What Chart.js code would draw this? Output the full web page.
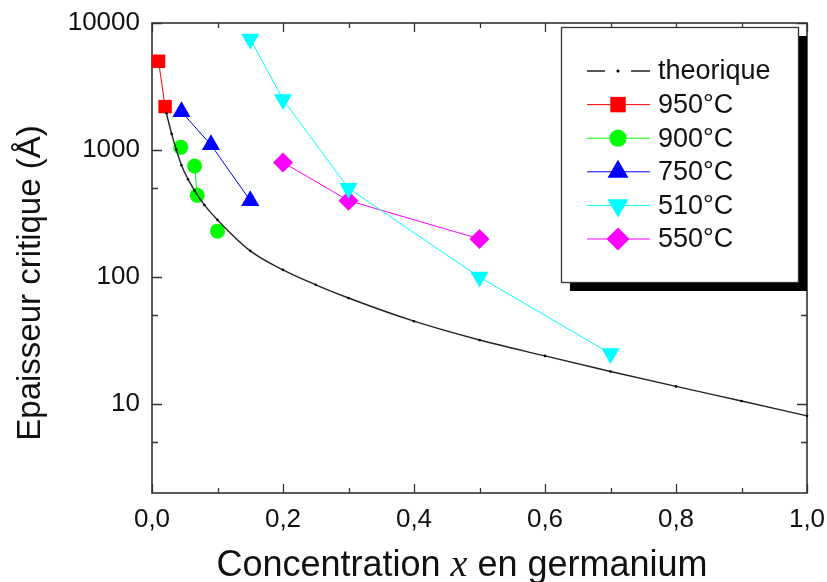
<!DOCTYPE html>
<html lang="fr">
<head>
<meta charset="utf-8">
<script src="https://cdn.jsdelivr.net/npm/chart.js@4.4.1/dist/chart.umd.min.js"></script>
<style>
  html, body { margin: 0; padding: 0; background: #fff; }
  #wrap { width: 827px; height: 582px; }
</style>
</head>
<body>
<div id="wrap"><canvas id="chart" width="827" height="582"></canvas></div>
<script>
// courbe théorique de l'épaisseur critique
const theoX = [0.022, 0.03, 0.037, 0.045, 0.055, 0.065, 0.08, 0.1, 0.15, 0.2, 0.25, 0.3, 0.4, 0.5, 0.6, 0.7, 0.8, 0.9, 1.0];
const theoY = [1950, 1340, 1010, 760, 590, 480, 370, 282, 161, 114, 87, 68.5, 45, 32, 24, 18.1, 13.8, 10.6, 8.1];

// mesures par température de croissance
const x950 = [0.01, 0.02];
const y950 = [5000, 2200];
const x900 = [0.044, 0.065, 0.069, 0.1];
const y900 = [1050, 750, 440, 230];
const join900 = [false, true, false];
const x750 = [0.045, 0.09, 0.15];
const y750 = [2000, 1100, 400];
const x510 = [0.15, 0.2, 0.3, 0.5, 0.7];
const y510 = [7500, 2500, 500, 100, 25];
const x550 = [0.2, 0.3, 0.5];
const y550 = [800, 400, 200];

const xMajor = [0, 0.2, 0.4, 0.6, 0.8, 1.0];
const xMinor = [0.1, 0.3, 0.5, 0.7, 0.9];
const yMajor = [10, 100, 1000, 10000];
const yMinor = [5, 50, 500, 5000];

const FONT = '"Liberation Sans", Arial, sans-serif';
const pts = (xs, ys) => xs.map((x, i) => ({ x, y: ys[i] }));

function serie(label, xs, ys, color, style, radius, extra = {}) {
  return {
    label, data: pts(xs, ys),
    borderColor: color, backgroundColor: color, borderWidth: 1,
    pointStyle: style, pointRadius: radius, pointBorderWidth: 0,
    pointBackgroundColor: color, clip: false, ...extra,
  };
}

// les marges sont fixées à la main, pas de rembourrage automatique des étiquettes
function noPad(s) {
  s.paddingLeft = 0; s.paddingRight = 0; s.paddingTop = 0; s.paddingBottom = 0;
}

// cadre avec graduations vers l'intérieur, sur les quatre côtés
const frame = {
  id: 'frame',
  beforeDatasetsDraw(chart) {
    const { ctx, chartArea: a, scales: { x, y } } = chart;
    ctx.save();
    ctx.strokeStyle = '#333';
    ctx.lineWidth = 1.6;
    ctx.strokeRect(a.left, a.top, a.right - a.left, a.bottom - a.top);
    ctx.lineWidth = 1.3;
    ctx.beginPath();
    const tx = (vals, len) => vals.forEach((v) => {
      const px = Math.round(x.getPixelForValue(v)) + 0.5;
      ctx.moveTo(px, a.bottom); ctx.lineTo(px, a.bottom - len);
      ctx.moveTo(px, a.top); ctx.lineTo(px, a.top + len);
    });
    const ty = (vals, len) => vals.forEach((v) => {
      const py = Math.round(y.getPixelForValue(v)) + 0.5;
      ctx.moveTo(a.left, py); ctx.lineTo(a.left + len, py);
      ctx.moveTo(a.right, py); ctx.lineTo(a.right - len, py);
    });
    tx(xMajor, 9); tx(xMinor, 5);
    ty(yMajor, 10); ty(yMinor, 6);
    ctx.stroke();
    ctx.restore();
  },
  afterDraw(chart) {
    const { ctx } = chart;
    ctx.save();
    ctx.fillStyle = '#111';
    // titre de l'axe vertical
    ctx.font = `33px ${FONT}`;
    ctx.textAlign = 'center';
    ctx.textBaseline = 'middle';
    ctx.translate(31, 283);
    ctx.rotate(-Math.PI / 2);
    ctx.fillText('Epaisseur critique (Å)', 0, 0);
    ctx.restore();

    // titre de l'axe horizontal, avec x en italique
    ctx.save();
    ctx.fillStyle = '#111';
    ctx.textBaseline = 'alphabetic';
    const parts = [
      ['Concentration ', `36px ${FONT}`],
      ['x', `italic 38px "Liberation Serif", "Times New Roman", serif`],
      [' en germanium', `36px ${FONT}`],
    ];
    let w = 0;
    parts.forEach(([t, f]) => { ctx.font = f; w += ctx.measureText(t).width; });
    let cx = 462 - w / 2;
    parts.forEach(([t, f]) => { ctx.font = f; ctx.fillText(t, cx, 576); cx += ctx.measureText(t).width; });
    ctx.restore();

    // légende encadrée avec ombre portée
    const box = { x: 561, y: 27, w: 237, h: 255 };
    ctx.save();
    ctx.fillStyle = '#000';
    ctx.fillRect(box.x + 9, box.y + 9, box.w, box.h);
    ctx.fillStyle = '#fff';
    ctx.fillRect(box.x, box.y, box.w, box.h);
    ctx.strokeStyle = '#333';
    ctx.lineWidth = 1.3;
    ctx.strokeRect(box.x + 0.5, box.y + 0.5, box.w, box.h);
    ctx.font = `27px ${FONT}`;
    ctx.textBaseline = 'middle';
    ctx.textAlign = 'left';
    chart.data.datasets.forEach((ds, i) => {
      const ry = 71 + i * 33.6;
      ctx.strokeStyle = ds.borderColor;
      ctx.lineWidth = ds.borderWidth;
      ctx.beginPath();
      if (ds.pointRadius < 3) {
        ctx.moveTo(587, ry); ctx.lineTo(605, ry);
        ctx.moveTo(631, ry); ctx.lineTo(650, ry);
      } else {
        ctx.moveTo(587, ry); ctx.lineTo(650, ry);
      }
      ctx.stroke();
      ctx.fillStyle = ds.pointBackgroundColor;
      Chart.helpers.drawPoint(ctx, {
        pointStyle: ds.pointStyle,
        radius: ds.pointRadius < 3 ? 1.6 : ds.pointRadius * 1.15,
        rotation: ds.pointRotation || 0,
        borderWidth: 0,
      }, 618, ry);
      ctx.fillStyle = '#111';
      ctx.fillText(ds.label, 658, ry + 1);
    });
    ctx.restore();
  },
};

new Chart(document.getElementById('chart'), {
  type: 'line',
  data: {
    datasets: [
      serie('theorique', theoX, theoY, '#222', 'circle', 1.3, {
        borderWidth: 1.4, pointBackgroundColor: '#000', cubicInterpolationMode: 'monotone',
      }),
      serie('950°C', x950, y950, '#ff0000', 'rect', 9.5),
      serie('900°C', x900, y900, '#00ff00', 'circle', 7.5, {
        segment: { borderColor: (c) => (join900[c.p0DataIndex] ? '#00ff00' : 'rgba(0,0,0,0)') },
      }),
      serie('750°C', x750, y750, '#0000ff', 'triangle', 10.5),
      serie('510°C', x510, y510, '#00ffff', 'triangle', 10.5, { pointRotation: 180 }),
      serie('550°C', x550, y550, '#ff00ff', 'rectRot', 10),
    ],
  },
  options: {
    responsive: false,
    animation: false,
    devicePixelRatio: 1,
    layout: { padding: { top: 23, right: 20, left: 0, bottom: 0 } },
    plugins: { legend: { display: false }, tooltip: { enabled: false } },
    scales: {
      x: {
        type: 'linear', min: 0, max: 1,
        grid: { display: false, drawTicks: false }, border: { display: false },
        afterBuildTicks: (s) => { s.ticks = xMajor.map((v) => ({ value: v })); },
        afterFit: (s) => { s.height = 89; noPad(s); },
        ticks: {
          padding: 11, color: '#111', font: { family: FONT, size: 26 },
          callback: (v) => Number(v).toFixed(1).replace('.', ','),
        },
      },
      y: {
        type: 'logarithmic', min: 2, max: 10000,
        grid: { display: false, drawTicks: false }, border: { display: false },
        afterBuildTicks: (s) => { s.ticks = yMajor.map((v) => ({ value: v })); },
        afterFit: (s) => { s.width = 152; noPad(s); },
        ticks: {
          padding: 12, color: '#111', font: { family: FONT, size: 26 },
          callback: (v) => String(v),
        },
      },
    },
  },
  plugins: [frame],
});
</script>
</body>
</html>
